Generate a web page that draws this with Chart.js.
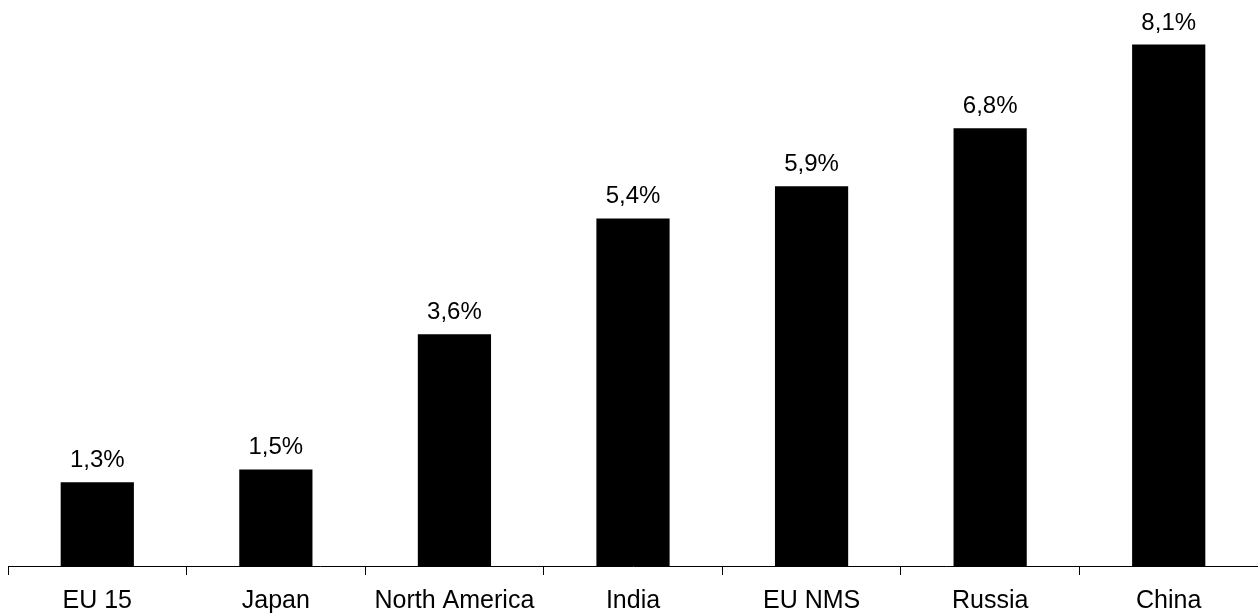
<!DOCTYPE html>
<html>
<head>
<meta charset="utf-8">
<script src="https://cdn.jsdelivr.net/npm/chart.js@4"></script>
<style>
  html, body { margin: 0; padding: 0; background: #fff; }
  #wrap { width: 1258px; height: 616px; }
</style>
</head>
<body>
<div id="wrap"><canvas id="growthChart"></canvas></div>
<script>
/* ── Data ── */
const REGIONS = ['EU 15', 'Japan', 'North America', 'India', 'EU NMS', 'Russia', 'China'];
const GROWTH  = [1.3, 1.5, 3.6, 5.4, 5.9, 6.8, 8.1];

const FONT = "'Liberation Sans', Arial, sans-serif";

function fmtPct(v) { return v.toFixed(1).replace('.', ',') + '%'; }

/* ── Value labels above bars ── */
const valueLabels = {
  id: 'valueLabels',
  afterDatasetsDraw(chart) {
    const ctx = chart.ctx;
    const meta = chart.getDatasetMeta(0);
    ctx.save();
    ctx.font = '24px ' + FONT;
    ctx.fillStyle = '#000';
    ctx.textAlign = 'center';
    ctx.textBaseline = 'alphabetic';
    meta.data.forEach((bar, i) => {
      ctx.fillText(fmtPct(GROWTH[i]), bar.x, bar.y - 15);
    });
    ctx.restore();
  }
};

new Chart(document.getElementById('growthChart'), {
  type: 'bar',
  data: {
    labels: REGIONS,
    datasets: [{
      data: GROWTH,
      backgroundColor: '#000',
      borderWidth: 0,
      barPercentage: 0.82,
      categoryPercentage: 0.5
    }]
  },
  options: {
    responsive: true,
    maintainAspectRatio: false,
    animation: false,
    layout: { padding: { top: 6, left: 8, right: 0, bottom: 0 } },
    plugins: {
      legend: { display: false },
      tooltip: { enabled: false }
    },
    scales: {
      x: {
        offset: true,
        afterFit: scale => { scale.height = 50; },
        grid: {
          display: true,
          offset: true,
          drawOnChartArea: false,
          drawTicks: true,
          tickLength: 9,
          color: '#000'
        },
        border: { display: true, color: '#000', width: 1 },
        ticks: {
          color: '#000',
          padding: 14,
          maxRotation: 0,
          autoSkip: false,
          font: { family: FONT, size: 25, lineHeight: 1 }
        }
      },
      y: {
        display: false,
        min: 0,
        max: 8.7
      }
    }
  },
  plugins: [valueLabels]
});
</script>
</body>
</html>
